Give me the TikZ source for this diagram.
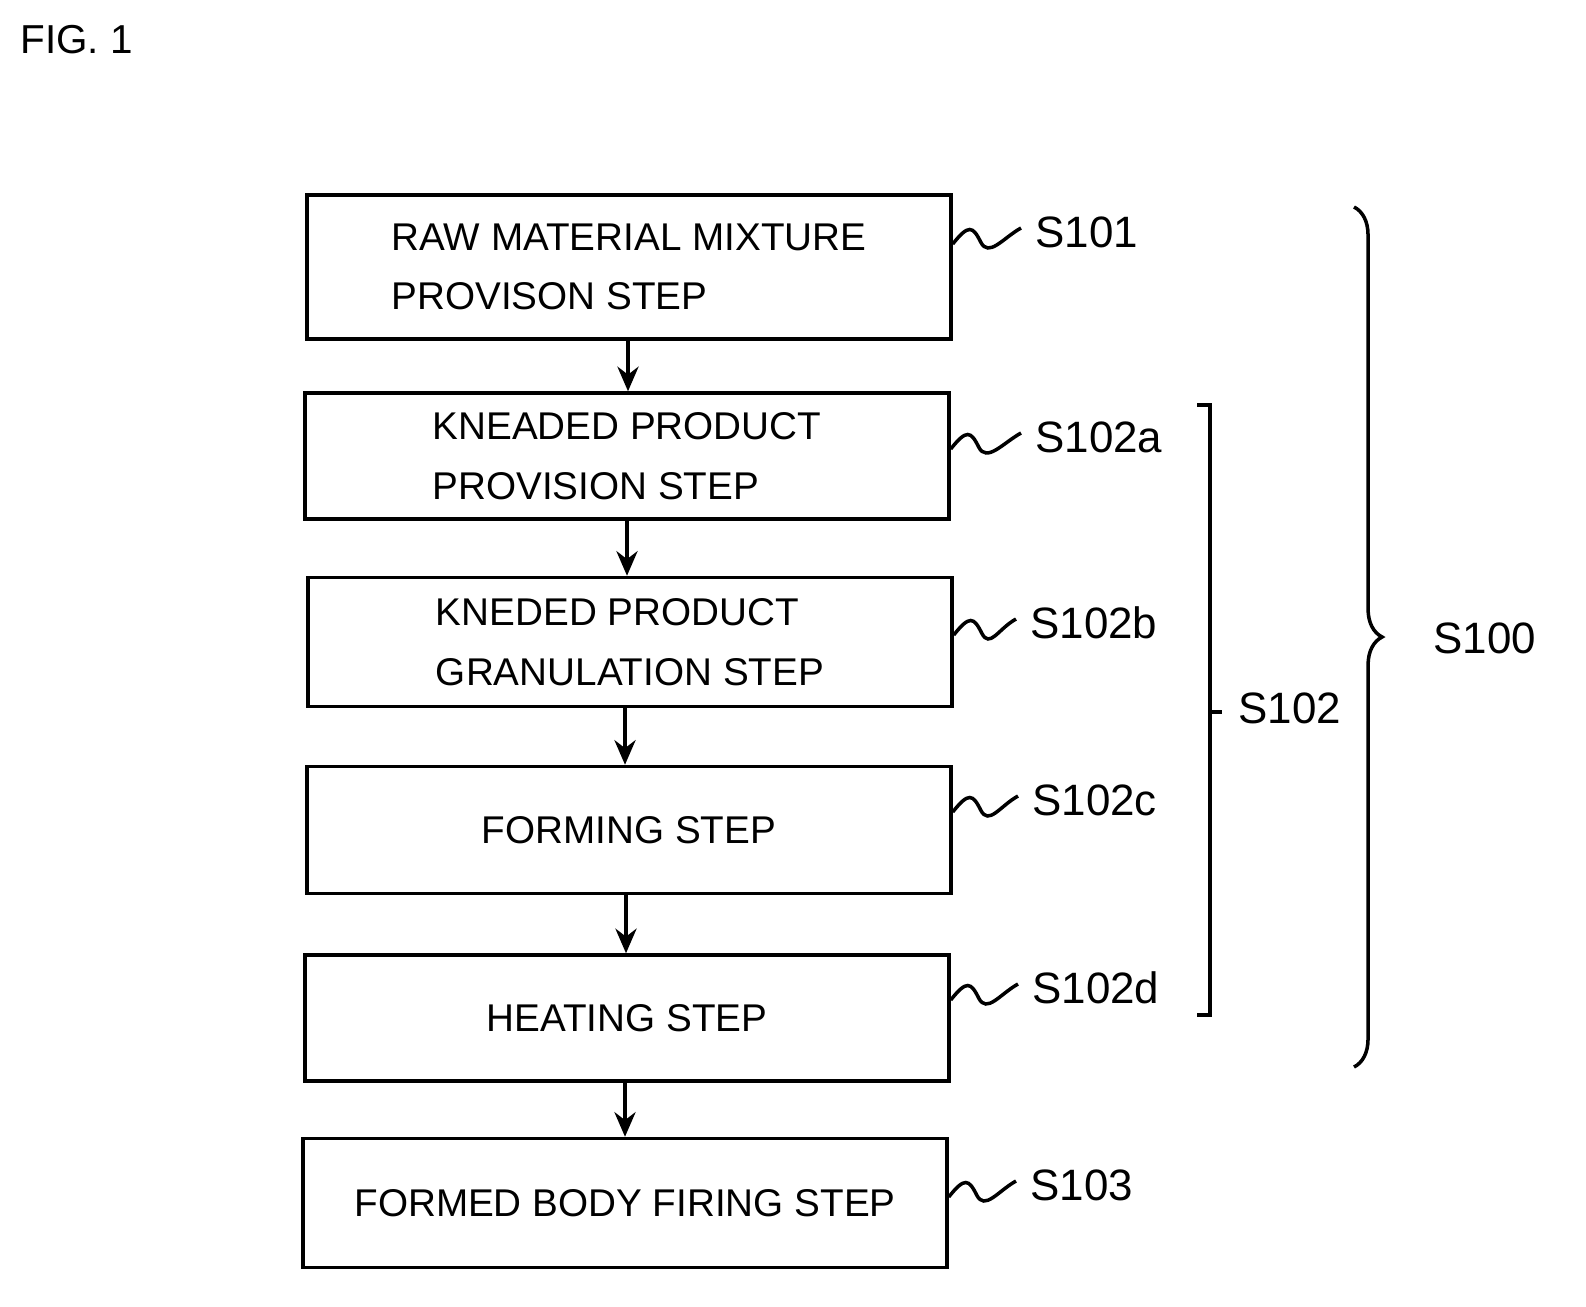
\documentclass[tikz,border=0pt]{standalone}
\usepackage{fontspec}
\setmainfont{Liberation Sans}
\usetikzlibrary{arrows.meta,decorations.pathreplacing,calc}
\tikzset{
  box/.style={draw, line width=2pt, minimum width=12.88cm, align=left,
    font=\fontsize{22}{28}\selectfont, inner sep=0pt},
  flow/.style={line width=2.2pt, -{Stealth[length=14pt,width=12pt]}},
  squig/.style={line width=2pt},
  lbl/.style={font=\fontsize{25}{30}\selectfont, anchor=west, inner sep=0pt},
}
\begin{document}
\begin{tikzpicture}[x=0.02cm,y=-0.02cm]
  \useasboundingbox (0,0) rectangle (1586,1306);
  \node[font=\rmfamily\fontsize{23}{26}\selectfont, anchor=west, inner sep=0pt] (fig) at (20,40) {FIG. 1};

  % process steps
  \node[box, minimum height=2.88cm] (s101) at (629,267) {RAW MATERIAL MIXTURE\\[6pt]PROVISON STEP};
  \node[box, minimum height=2.52cm] (s102a) at (627,456) {KNEADED PRODUCT\\[6pt]PROVISION STEP};
  \node[box, minimum height=2.58cm] (s102b) at (630,642) {KNEDED PRODUCT\\[6pt]GRANULATION STEP};
  \node[box, minimum height=2.54cm] (s102c) at (629,830) {FORMING STEP};
  \node[box, minimum height=2.52cm] (s102d) at (627,1018) {HEATING STEP};
  \node[box, minimum height=2.58cm] (s103) at (625,1203) {FORMED BODY FIRING STEP};

  \draw[flow] (s101.south -| 628,0) -- (s102a.north -| 628,0);
  \draw[flow] (s102a.south -| 627,0) -- (s102b.north -| 627,0);
  \draw[flow] (s102b.south -| 625,0) -- (s102c.north -| 625,0);
  \draw[flow] (s102c.south -| 626,0) -- (s102d.north -| 626,0);
  \draw[flow] (s102d.south -| 625,0) -- (s103.north -| 625,0);

  % step labels
  \node[lbl] (l101) at (1035,232) {S101};
  \node[lbl] (l102a) at (1035,437) {S102a};
  \node[lbl] (l102b) at (1030,623) {S102b};
  \node[lbl] (l102c) at (1032,800) {S102c};
  \node[lbl] (l102d) at (1032,988) {S102d};
  \node[lbl] (l103) at (1030,1185) {S103};

  \foreach \b/\l in {s101/l101, s102a/l102a, s102b/l102b, s102c/l102c, s102d/l102d, s103/l103} {
    \draw[squig] (\b.east |- \l.west) ++(0,12) .. controls +(16,-20) and +(-8,-16) .. ++(28,-2)
      .. controls +(8,16) and +(-18,10) .. ($(\l.west)+(-14,-4)$);
  }

  % groups
  \draw[line width=2pt] (1197,405) -- (1210,405) -- (1210,1015) -- (1197,1015);
  \draw[line width=2pt] (1210,712) -- (1222,712);
  \node[lbl] (l102) at (1238,708) {S102};
  \draw[line width=2pt, decorate, decoration={brace, amplitude=16pt}] (1354,207) -- (1354,1067);
  \node[lbl] (l100) at (1433,638) {S100};
\end{tikzpicture}
\end{document}
